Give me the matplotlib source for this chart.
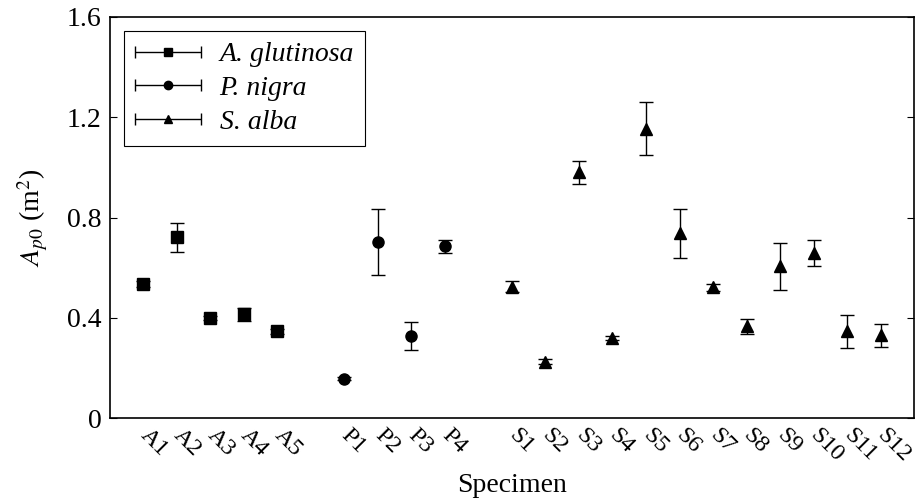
import matplotlib
matplotlib.use("Agg")
import matplotlib.pyplot as plt
from matplotlib.legend_handler import HandlerErrorbar
from matplotlib.container import ErrorbarContainer
import numpy as np

plt.rcParams['font.family'] = ['Liberation Serif', 'DejaVu Serif']
plt.rcParams['mathtext.fontset'] = 'stix'

# data
alder_labels = ['A1', 'A2', 'A3', 'A4', 'A5']
alder_mean = [0.537, 0.722, 0.400, 0.414, 0.346]
alder_err = [0.012, 0.058, 0.008, 0.026, 0.010]

poplar_labels = ['P1', 'P2', 'P3', 'P4']
poplar_mean = [0.158, 0.702, 0.327, 0.685]
poplar_err = [0.005, 0.133, 0.057, 0.025]

willow_labels = ['S1', 'S2', 'S3', 'S4', 'S5', 'S6', 'S7', 'S8', 'S9', 'S10', 'S11', 'S12']
willow_mean = [0.525, 0.225, 0.980, 0.320, 1.155, 0.737, 0.522, 0.366, 0.605, 0.658, 0.346, 0.330]
willow_err = [0.022, 0.010, 0.046, 0.008, 0.105, 0.098, 0.015, 0.030, 0.095, 0.053, 0.067, 0.047]

species = ['A. glutinosa', 'P. nigra', 'S. alba']
markers = ['s', 'o', '^']

# positions: groups separated by one empty slot
x_a = np.arange(1, 1 + len(alder_labels))
x_p = np.arange(x_a[-1] + 2, x_a[-1] + 2 + len(poplar_labels))
x_s = np.arange(x_p[-1] + 2, x_p[-1] + 2 + len(willow_labels))

fontsize = 20
fig = plt.figure(figsize=(9.15, 4.99), dpi=100)
ax = fig.add_axes([0.120, 0.162, 0.879, 0.804])

eb = dict(color='black', ecolor='black', elinewidth=1, capthick=1, linestyle='none')
ax.errorbar(x_a, alder_mean, yerr=alder_err, marker=markers[0], markersize=8, capsize=5, **eb)
ax.errorbar(x_p, poplar_mean, yerr=poplar_err, marker=markers[1], markersize=8, capsize=5, **eb)
ax.errorbar(x_s, willow_mean, yerr=willow_err, marker=markers[2], markersize=8.5, capsize=5, **eb)

# legend proxies with horizontal bars
handles = []
for m in markers:
    h = ax.errorbar([np.nan], [np.nan], xerr=[0.1], marker=m, markersize=6, capsize=4, **eb)
    handles.append(h)

ax.set_xlim(0, x_s[-1] + 1)
ax.set_ylim(0, 1.6)
ax.set_yticks([0, 0.4, 0.8, 1.2, 1.6])
ax.set_yticklabels(['0', '0.4', '0.8', '1.2', '1.6'], fontsize=fontsize)
ax.tick_params(axis='y', direction='in', length=5, right=True, width=0.8, pad=6)

ticks = np.concatenate([x_a, x_p, x_s])
ax.set_xticks(ticks)
ax.set_xticklabels(alder_labels + poplar_labels + willow_labels, fontsize=17.5,
                   rotation=-45, ha='left', va='center', rotation_mode='anchor')
ax.tick_params(axis='x', length=0, pad=10)

ax.set_xlabel('Specimen', fontsize=fontsize, labelpad=5)
ax.set_ylabel(r'$A_{p0}$ (m$^2$)', fontsize=fontsize, labelpad=12)

for s in ax.spines.values():
    s.set_linewidth(1.2)

leg = ax.legend(handles, species, loc='upper left',
                prop={'style': 'italic', 'size': fontsize},
                handler_map={ErrorbarContainer: HandlerErrorbar(xerr_size=1.2)},
                fancybox=False, edgecolor='black', framealpha=1,
                handlelength=2.4, handletextpad=0.65,
                borderpad=0.4, labelspacing=0.3, borderaxespad=0.5)
leg.get_frame().set_linewidth(0.8)

fig.savefig('out.png', dpi=100)
